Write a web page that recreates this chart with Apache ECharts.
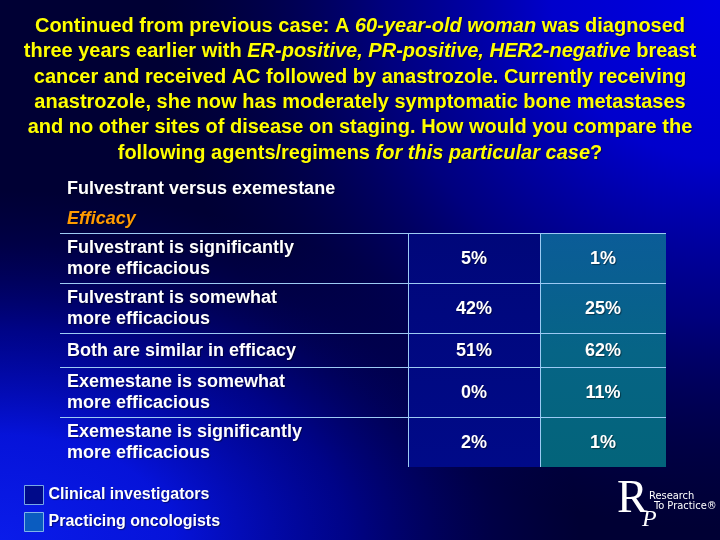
<!DOCTYPE html>
<html><head><meta charset="utf-8">
<script src="https://cdn.jsdelivr.net/npm/echarts@6/dist/echarts.min.js"></script>
<style>html,body{margin:0;padding:0;background:#000033}#c{width:720px;height:540px}</style>
</head><body><div id="c"></div>
<script>
// ---- data ----
const titleLines = [
  'Continued from previous case: A {i|60-year-old woman} was diagnosed',
  'three years earlier with {i|ER-positive, PR-positive, HER2-negative} breast',
  'cancer and received AC followed by anastrozole. Currently receiving',
  'anastrozole, she now has moderately symptomatic bone metastases',
  'and no other sites of disease on staging. How would you compare the',
  'following agents/regimens {i|for this particular case}?'
];
const sectionTitle = 'Fulvestrant versus exemestane';
const sectionSubtitle = 'Efficacy';
const categories = [
  'Fulvestrant is significantly\nmore efficacious',
  'Fulvestrant is somewhat\nmore efficacious',
  'Both are similar in efficacy',
  'Exemestane is somewhat\nmore efficacious',
  'Exemestane is significantly\nmore efficacious'
];
const seriesNames = ['Clinical investigators', 'Practicing oncologists'];
const clinicalInvestigators = [5, 42, 51, 0, 2];
const practicingOncologists = [1, 25, 62, 11, 1];

// ---- layout ----
const FONT = '"Liberation Sans", Arial, Helvetica, sans-serif';
const colEdges = [0, 348 / 606, 480 / 606, 1];
const rowUnits = categories.map(c => c.split('\n').length + 1.125);
const rowStart = [];
let acc = 0;
rowUnits.forEach(u => { rowStart.push(acc); acc += u; });
const totalUnits = acc;
const LINE = '#9ccaf4';
const SHADOW = { textShadowColor: 'rgba(0,0,0,0.45)', textShadowOffsetX: 1, textShadowOffsetY: 1, textShadowBlur: 1 };

function cellBox(api, c, r) {
  const p0 = api.coord([colEdges[c], rowStart[r]]);
  const p1 = api.coord([colEdges[c + 1], rowStart[r] + rowUnits[r]]);
  return { x0: Math.round(p0[0]), y0: Math.round(p0[1]), x1: Math.round(p1[0]), y1: Math.round(p1[1]) };
}

function valueRender(colIdx, stops) {
  return function (params, api) {
    const r = api.value(0);
    const b = cellBox(api, colIdx, r);
    const top = api.coord([0, 0])[1];
    const bot = api.coord([0, totalUnits])[1];
    const fill = new echarts.graphic.LinearGradient(0, top, 0, bot, stops, true);
    return {
      type: 'group',
      children: [
        { type: 'rect', shape: { x: b.x0, y: b.y0, width: b.x1 - b.x0, height: b.y1 - b.y0 }, style: { fill: fill } },
        { type: 'line', shape: { x1: b.x0, y1: b.y0 + 0.5, x2: b.x1, y2: b.y0 + 0.5 }, style: { stroke: LINE, lineWidth: 1 } },
        { type: 'line', shape: { x1: b.x0 + 0.5, y1: b.y0, x2: b.x0 + 0.5, y2: b.y1 }, style: { stroke: LINE, lineWidth: 1 } },
        { type: 'text', style: Object.assign({ text: api.value(1) + '%', x: (b.x0 + b.x1) / 2, y: (b.y0 + b.y1) / 2 + 1,
            align: 'center', verticalAlign: 'middle', fill: '#ffffff', font: 'bold 18px ' + FONT }, SHADOW) }
      ]
    };
  };
}

function labelRender(params, api) {
  const r = api.value(0);
  const b = cellBox(api, 0, r);
  return {
    type: 'group',
    children: [
      { type: 'line', shape: { x1: b.x0, y1: b.y0 + 0.5, x2: b.x1, y2: b.y0 + 0.5 }, style: { stroke: LINE, lineWidth: 1 } },
      { type: 'text', style: Object.assign({ text: categories[r], x: b.x0 + 7, y: (b.y0 + b.y1) / 2 + 1,
          align: 'left', verticalAlign: 'middle', fill: '#ffffff', font: 'bold 18px ' + FONT, lineHeight: 21 }, SHADOW) }
    ]
  };
}

// background: dark base with two elliptical bright glows (bottom-left, top-right)
function glow(cx, cy, rx, ry, stops) {
  return { type: 'rect', z: -90, silent: true, x: cx, y: cy, scaleX: rx / 100, scaleY: ry / 100,
    shape: { x: -100, y: -100, width: 200, height: 200 },
    style: { fill: new echarts.graphic.RadialGradient(0.5, 0.5, 0.5, stops) } };
}
const blGlow = glow(0, 540, 580, 350, [
  { offset: 0, color: 'rgba(10,28,234,1)' },
  { offset: 0.3, color: 'rgba(6,20,226,0.95)' },
  { offset: 0.6, color: 'rgba(0,6,190,0.6)' },
  { offset: 0.85, color: 'rgba(0,0,140,0.2)' },
  { offset: 1, color: 'rgba(0,0,120,0)' }
]);
const trGlow = glow(720, 0, 560, 530, [
  { offset: 0, color: 'rgba(0,0,228,1)' },
  { offset: 0.3, color: 'rgba(0,0,212,0.95)' },
  { offset: 0.6, color: 'rgba(0,0,175,0.6)' },
  { offset: 0.85, color: 'rgba(0,0,125,0.22)' },
  { offset: 1, color: 'rgba(0,0,100,0)' }
]);

const chart = echarts.init(document.getElementById('c'), null, { renderer: 'canvas' });
chart.setOption({
  animation: false,
  title: {
    text: titleLines.join('\n'),
    left: 'center', top: 9,
    textStyle: Object.assign({
      color: '#ffff00', fontSize: 20, fontWeight: 'bold', fontFamily: FONT, lineHeight: 25.3,
      rich: { i: Object.assign({ color: '#ffff00', fontSize: 20, fontWeight: 'bold', fontStyle: 'italic', fontFamily: FONT, lineHeight: 25.3 }, SHADOW) }
    }, SHADOW)
  },
  legend: {
    orient: 'vertical', left: 24, top: 485, height: 60, padding: 0,
    itemWidth: 19, itemHeight: 19, itemGap: 7,
    selectedMode: false,
    data: [
      { name: seriesNames[0], icon: 'rect', itemStyle: { color: '#000a8a', borderColor: '#78a8e6', borderWidth: 1 } },
      { name: seriesNames[1], icon: 'rect', itemStyle: { color: '#0a5cc0', borderColor: '#80b4ea', borderWidth: 1 } }
    ],
    textStyle: Object.assign({ color: '#ffffff', fontSize: 16, fontWeight: 'bold', fontFamily: FONT }, SHADOW)
  },
  grid: { left: 60, top: 233, width: 606, height: 234 },
  xAxis: { type: 'value', min: 0, max: 1, show: false },
  yAxis: { type: 'value', min: 0, max: totalUnits, inverse: true, show: false },
  graphic: [
    { type: 'rect', z: -100, silent: true, shape: { x: 0, y: 0, width: 720, height: 540 }, style: { fill: '#000034' } },
    blGlow,
    trGlow,
    { type: 'text', left: 67, top: 180, style: Object.assign({ text: sectionTitle, fill: '#ffffff', font: 'bold 18px ' + FONT }, SHADOW) },
    { type: 'text', left: 67, top: 210, style: Object.assign({ text: sectionSubtitle, fill: '#ff9a00', font: 'italic bold 18px ' + FONT }, SHADOW) },
    { type: 'text', left: 617, top: 477, style: { text: 'R', fill: '#ffffff', font: '46px "Liberation Serif", "Times New Roman", serif' } },
    { type: 'text', left: 642, top: 508, style: { text: 'P', fill: '#ffffff', font: 'italic 24px "Liberation Serif", "Times New Roman", serif' } },
    { type: 'text', left: 649, top: 491, style: { text: 'Research', fill: '#ffffff', font: '11px "Liberation Sans Narrow", "DejaVu Sans Condensed", sans-serif' } },
    { type: 'text', left: 654, top: 501, style: { text: 'To Practice\u00ae', fill: '#ffffff', font: '11px "Liberation Sans Narrow", "DejaVu Sans Condensed", sans-serif' } }
  ],
  series: [
    { type: 'custom', name: 'labels', coordinateSystem: 'cartesian2d', renderItem: labelRender,
      data: categories.map((c, i) => [i]), silent: true },
    { type: 'custom', name: seriesNames[0], coordinateSystem: 'cartesian2d',
      itemStyle: { color: '#000a8a' },
      renderItem: valueRender(1, [{ offset: 0, color: '#00077a' }, { offset: 1, color: '#000a88' }]),
      data: clinicalInvestigators.map((v, i) => [i, v]) },
    { type: 'custom', name: seriesNames[1], coordinateSystem: 'cartesian2d',
      itemStyle: { color: '#0a5cc0' },
      renderItem: valueRender(2, [{ offset: 0, color: '#0b5c98' }, { offset: 0.5, color: '#066486' }, { offset: 1, color: '#03647a' }]),
      data: practicingOncologists.map((v, i) => [i, v]) }
  ]
});
</script>
</body></html>
